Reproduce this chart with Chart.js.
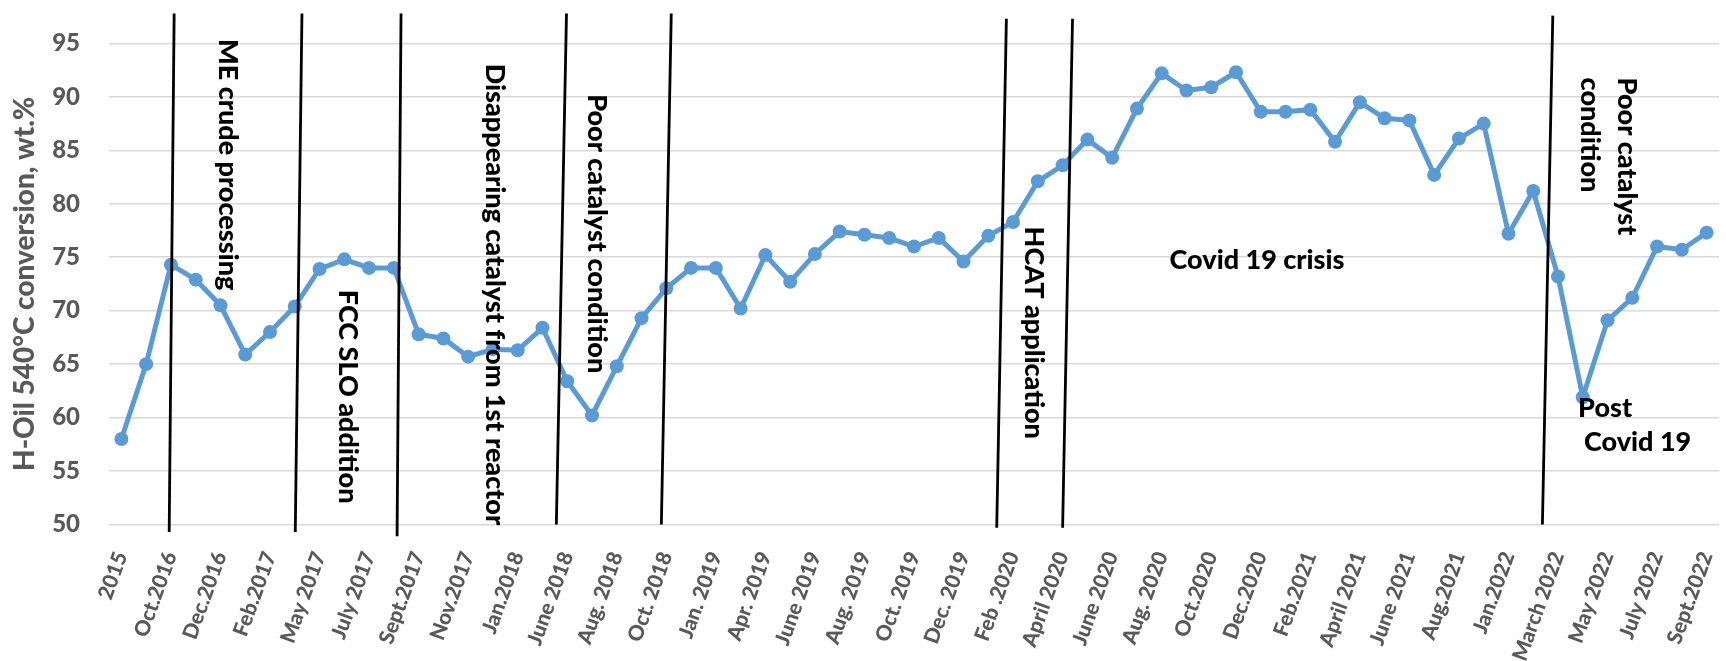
<!DOCTYPE html>
<html>
<head>
<meta charset="utf-8">
<script src="https://cdn.jsdelivr.net/npm/chart.js@4.4.1/dist/chart.umd.min.js"></script>
<style>
  html, body { margin: 0; padding: 0; background: #fff; }
</style>
</head>
<body>
<canvas id="conversionChart" width="1726" height="661"></canvas>
<script>
// only every second month carries a label on the axis
const tickLabels = ['2015', 'Oct.2016', 'Dec.2016', 'Feb.2017', 'May 2017', 'July 2017', 'Sept.2017',
  'Nov.2017', 'Jan.2018', 'June 2018', 'Aug. 2018', 'Oct. 2018', 'Jan. 2019', 'Apr. 2019', 'June 2019',
  'Aug. 2019', 'Oct. 2019', 'Dec. 2019', 'Feb .2020', 'April 2020', 'June 2020', 'Aug. 2020', 'Oct.2020',
  'Dec.2020', 'Feb.2021', 'April 2021', 'June 2021', 'Aug.2021', 'Jan.2022', 'March 2022', 'May 2022',
  'July 2022', 'Sept.2022'];

// H-Oil 540°C conversion, wt.%
const conversion = [58.0, 65.0, 74.3, 72.9, 70.5, 65.9, 68.0, 70.4, 73.9, 74.8,
  74.0, 74.0, 67.8, 67.4, 65.7, 66.4, 66.3, 68.4, 63.4, 60.2,
  64.8, 69.3, 72.1, 74.0, 74.0, 70.2, 75.2, 72.7, 75.3, 77.4,
  77.1, 76.8, 76.0, 76.8, 74.6, 77.0, 78.3, 82.1, 83.6, 86.0,
  84.3, 88.9, 92.2, 90.6, 90.9, 92.3, 88.6, 88.6, 88.8, 85.8,
  89.5, 88.0, 87.8, 82.7, 86.1, 87.5, 77.2, 81.2, 73.2, 61.9,
  69.1, 71.2, 76.0, 75.7, 77.3];

const yMin = 50;
const yMax = 95;
const yStep = 5;

// event separators, as (month index, value) at their top and bottom ends
const markerTopIdx = [2.13, 7.29, 11.29, 17.97, 22.20, 35.73, 38.40, 57.79];
const markerTopVal = [97.8, 97.8, 97.8, 97.8, 97.8, 97.3, 97.3, 97.6];
const markerBottomIdx = [1.93, 7.02, 11.13, 17.56, 21.80, 35.34, 38.00, 57.37];
const markerBottomVal = [49.3, 49.3, 48.9, 50.0, 50.0, 49.7, 49.7, 50.0];

// vertical notes: centre month index, value where the text starts
const sideNotes = ['ME crude processing', 'FCC SLO addition', 'Disappearing catalyst from 1st reactor',
  'Poor catalyst condition', 'HCAT application', 'Poor catalyst', 'condition'];
const sideNoteIdx = [4.30, 9.13, 15.08, 19.19, 36.85, 60.78, 59.29];
const sideNoteVal = [95.4, 71.95, 93.1, 90.25, 77.87, 91.8, 91.8];

// horizontal notes: left month index, middle value
const flatNotes = ['Covid 19 crisis', 'Post', 'Covid 19'];
const flatNoteIdx = [42.32, 58.81, 59.05];
const flatNoteVal = [74.7, 60.9, 57.7];

const categories = conversion.map((_, i) => (i % 2 === 0 ? tickLabels[i / 2] : ''));

const eventMarkers = {
  id: 'eventMarkers',
  afterDatasetsDraw(chart) {
    const { ctx, scales: { x, y } } = chart;
    ctx.save();
    ctx.strokeStyle = '#000';
    ctx.lineWidth = 2.8;
    markerTopIdx.forEach((idx, i) => {
      ctx.beginPath();
      ctx.moveTo(x.getPixelForValue(idx), y.getPixelForValue(markerTopVal[i]));
      ctx.lineTo(x.getPixelForValue(markerBottomIdx[i]), y.getPixelForValue(markerBottomVal[i]));
      ctx.stroke();
    });

    ctx.fillStyle = '#000';
    ctx.font = '900 27px Lato';
    ctx.textBaseline = 'middle';
    ctx.textAlign = 'left';
    sideNotes.forEach((text, i) => {
      ctx.save();
      ctx.translate(x.getPixelForValue(sideNoteIdx[i]), y.getPixelForValue(sideNoteVal[i]));
      ctx.rotate(Math.PI / 2);
      ctx.fillText(text, 0, 0);
      ctx.restore();
    });
    flatNotes.forEach((text, i) => {
      ctx.fillText(text, x.getPixelForValue(flatNoteIdx[i]), y.getPixelForValue(flatNoteVal[i]));
    });
    ctx.restore();
  }
};

Chart.defaults.font.family = 'Lato';

const ctx = document.getElementById('conversionChart').getContext('2d');
new Chart(ctx, {
  type: 'line',
  data: {
    labels: categories,
    datasets: [{
      data: conversion,
      borderColor: '#5B9BD5',
      backgroundColor: '#5B9BD5',
      borderWidth: 5,
      pointRadius: 7,
      pointHoverRadius: 7,
      pointBorderWidth: 0,
      tension: 0
    }]
  },
  options: {
    responsive: false,
    animation: false,
    devicePixelRatio: 1,
    layout: { padding: { top: 38, right: 1, left: 0, bottom: 0 } },
    plugins: { legend: { display: false }, tooltip: { enabled: false } },
    scales: {
      x: {
        offset: true,
        grid: { display: false, drawTicks: false },
        border: { display: false },
        ticks: {
          autoSkip: false,
          minRotation: 70,
          maxRotation: 70,
          padding: 24,
          color: '#595959',
          font: { size: 21, weight: '900' }
        },
        afterFit(scale) {
          scale.height = 136.5;
          // let the plot run to the right edge of the canvas
          scale.paddingLeft = 0;
          scale.paddingRight = 0;
        }
      },
      y: {
        min: yMin,
        max: yMax,
        grid: { color: '#D9D9D9', lineWidth: 1.5, drawTicks: false },
        border: { display: false },
        ticks: {
          stepSize: yStep,
          padding: 29,
          color: '#595959',
          font: { size: 24, weight: '900' }
        },
        title: {
          display: true,
          text: 'H-Oil 540°C conversion, wt.%',
          color: '#595959',
          font: { size: 28, weight: '900' },
          padding: { top: 8, bottom: 0 }
        },
        afterFit(scale) { scale.width = 109; }
      }
    }
  },
  plugins: [eventMarkers]
});
</script>
</body>
</html>
